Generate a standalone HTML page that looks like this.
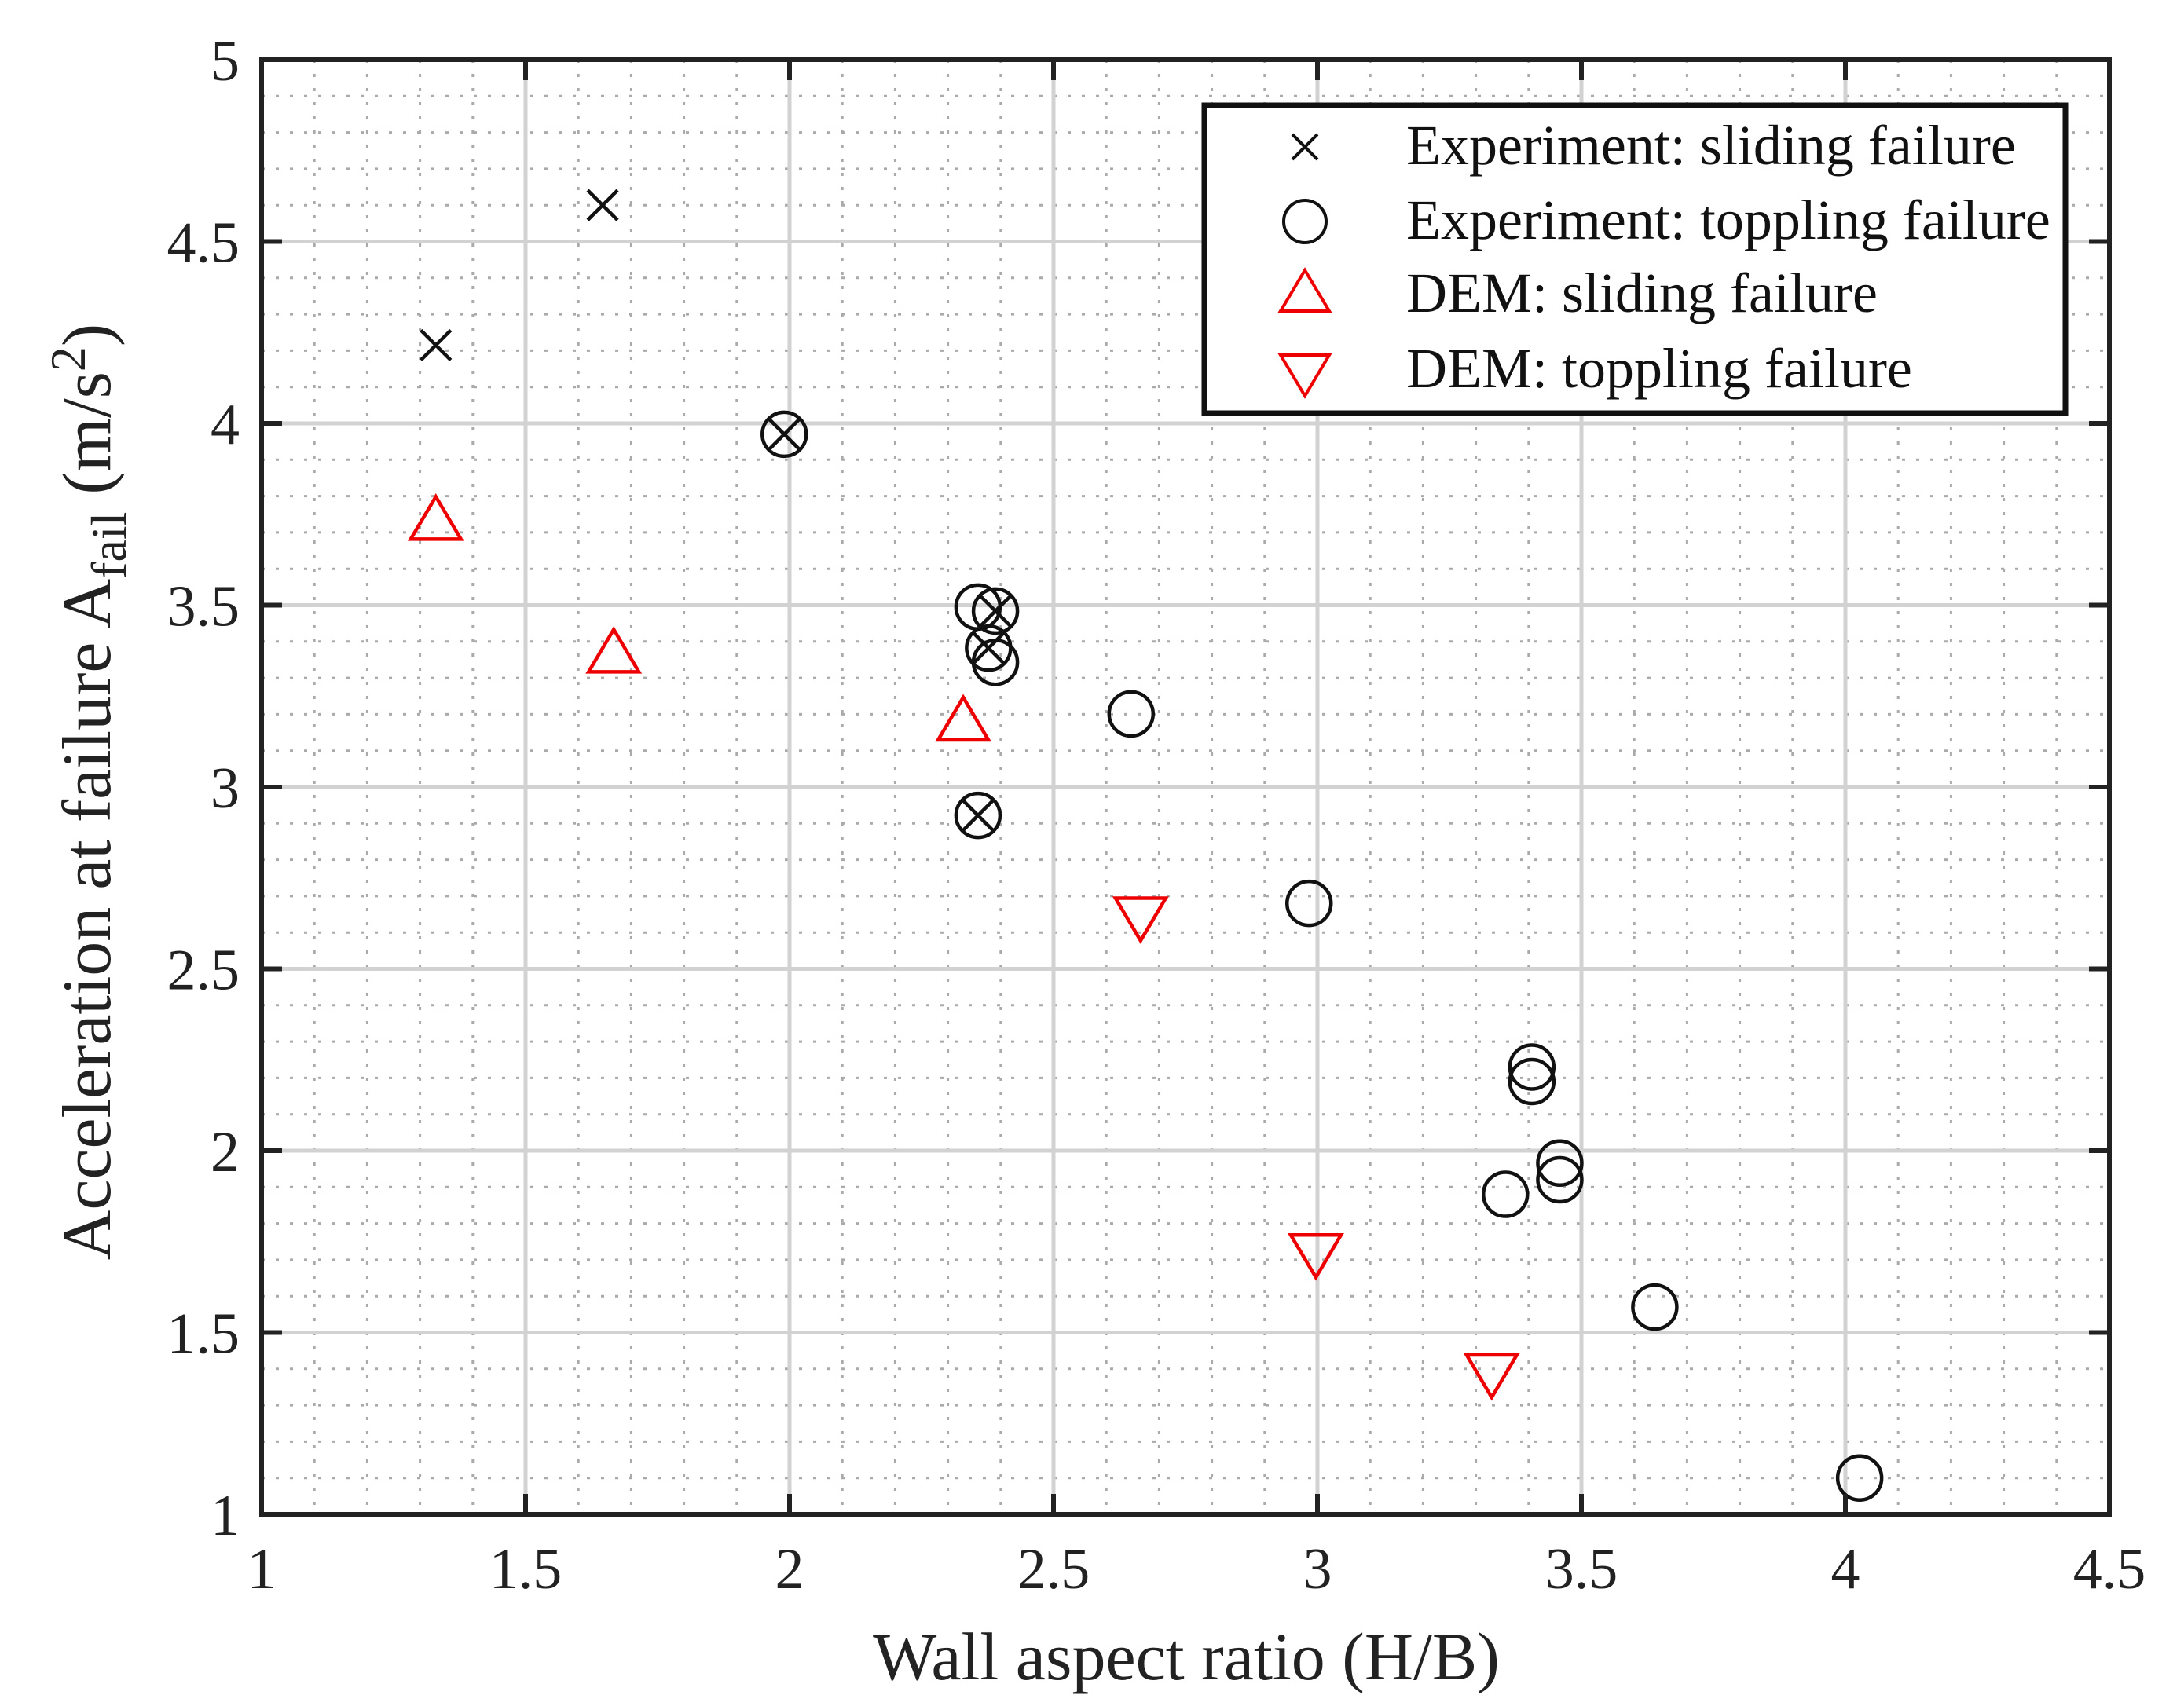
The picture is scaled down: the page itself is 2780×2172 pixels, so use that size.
<!DOCTYPE html>
<html><head><meta charset="utf-8">
<style>
html,body{margin:0;padding:0;background:#fff;}
svg{display:block;font-family:"Liberation Serif",serif;}
</style></head>
<body>
<svg id="chart" width="2780" height="2172" viewBox="0 0 2780 2172" xmlns="http://www.w3.org/2000/svg">
<rect x="0" y="0" width="2780" height="2172" fill="#fff"/>
<g id="grid"></g>
<g id="marks"></g>
<g id="axes"></g>
<text x="1510" y="2138" font-size="86" text-anchor="middle" fill="#222">Wall aspect ratio (H/B)</text>
<text transform="translate(140,1008) rotate(-90)" font-size="88" text-anchor="middle" fill="#222">Acceleration at failure A<tspan font-size="64" dy="20">fail</tspan><tspan dy="-20"> (m/s</tspan><tspan font-size="64" dy="-32">2</tspan><tspan dy="32">)</tspan></text>
<g id="legend">
<rect x="1533" y="134" width="1096" height="392" fill="#fff" stroke="#111" stroke-width="7"/>
<g>
<path d="M1645 171 L1677 203 M1677 171 L1645 203" stroke="#111" stroke-width="4" fill="none"/>
<text x="1790" y="209" font-size="72" fill="#111">Experiment: sliding failure</text></g>
<g>
<circle cx="1661" cy="282" r="27" stroke="#111" stroke-width="4" fill="none"/>
<text x="1790" y="304" font-size="72" fill="#111">Experiment: toppling failure</text></g>
<g>
<path d="M1661 344 L1692 396 L1630 396 Z" stroke="#e00" stroke-width="4" fill="none"/>
<text x="1790" y="397" font-size="72" fill="#111">DEM: sliding failure</text></g>
<g>
<path d="M1630 452 L1692 452 L1661 504 Z" stroke="#e00" stroke-width="4" fill="none"/>
<text x="1790" y="493" font-size="72" fill="#111">DEM: toppling failure</text></g>
</g>
</svg>
<script>
const xTicks = [1, 1.5, 2, 2.5, 3, 3.5, 4, 4.5];
const yTicks = [1, 1.5, 2, 2.5, 3, 3.5, 4, 4.5, 5];
const expSlideX = [1.33, 1.646, 1.99, 2.39, 2.377, 2.357];
const expSlideY = [4.215, 4.60, 3.97, 3.484, 3.382, 2.922];
const expToppleX = [1.99, 2.357, 2.39, 2.377, 2.39, 2.357, 2.647, 2.984, 3.406, 3.406, 3.459, 3.459, 3.356, 3.639, 4.027];
const expToppleY = [3.97, 3.495, 3.484, 3.382, 3.343, 2.922, 3.201, 2.68, 2.23, 2.19, 1.966, 1.92, 1.88, 1.57, 1.10];
const demSlideX = [1.33, 1.667, 2.329];
const demSlideY = [3.74, 3.375, 3.188];
const demToppleX = [2.665, 2.997, 3.33];
const demToppleY = [2.636, 1.71, 1.38];

const L = 333, R = 2685, T = 76, B = 1928;
const X0 = 1, X1 = 4.5, Y0 = 1, Y1 = 5;
function sx(v){ return L + (v - X0) / (X1 - X0) * (R - L); }
function sy(v){ return B - (v - Y0) / (Y1 - Y0) * (B - T); }
const NS = 'http://www.w3.org/2000/svg';
function mk(tag, attrs, parent){
  const e = document.createElementNS(NS, tag);
  for (const k in attrs) e.setAttribute(k, attrs[k]);
  parent.appendChild(e);
  return e;
}
const grid = document.getElementById('grid');
const marks = document.getElementById('marks');
const axes = document.getElementById('axes');

for (let i = 1; i < 35; i++) {
  if (i % 5 === 0) continue;
  const v = X0 + i * 0.1;
  const l = mk('line', {x1: sx(v), x2: sx(v), y1: T, y2: B, stroke: '#aaa', 'stroke-width': 3, 'stroke-dasharray': '4 14'}, grid);
  
  
}
for (let i = 1; i < 40; i++) {
  if (i % 5 === 0) continue;
  const v = Y0 + i * 0.1;
  const l = mk('line', {x1: L, x2: R, y1: sy(v), y2: sy(v), stroke: '#aaa', 'stroke-width': 3, 'stroke-dasharray': '4 14'}, grid);
  
  
}
xTicks.forEach(v => {
  const g = mk('line', {x1: sx(v), x2: sx(v), y1: T, y2: B, stroke: '#d2d2d2', 'stroke-width': 5}, grid);
  
  
  mk('line', {x1: sx(v), x2: sx(v), y1: B, y2: B - 26, stroke: '#222', 'stroke-width': 6}, axes);
  mk('line', {x1: sx(v), x2: sx(v), y1: T, y2: T + 26, stroke: '#222', 'stroke-width': 6}, axes);
  const t = mk('text', {x: sx(v), y: 2022, 'font-size': 74, 'text-anchor': 'middle', fill: '#222'}, axes);
  t.textContent = String(v);
  
  
});
yTicks.forEach(v => {
  const g = mk('line', {x1: L, x2: R, y1: sy(v), y2: sy(v), stroke: '#d2d2d2', 'stroke-width': 5}, grid);
  
  
  mk('line', {x1: L, x2: L + 26, y1: sy(v), y2: sy(v), stroke: '#222', 'stroke-width': 6}, axes);
  mk('line', {x1: R, x2: R - 26, y1: sy(v), y2: sy(v), stroke: '#222', 'stroke-width': 6}, axes);
  const t = mk('text', {x: 305, y: sy(v) + 26, 'font-size': 74, 'text-anchor': 'end', fill: '#222'}, axes);
  t.textContent = String(v);
  
  
});
const frame = mk('rect', {x: L, y: T, width: R - L, height: B - T, fill: 'none', stroke: '#222', 'stroke-width': 6}, axes);



expToppleX.forEach((x, i) => {
  const c = mk('circle', {cx: sx(x), cy: sy(expToppleY[i]), r: 28, fill: 'none', stroke: '#111', 'stroke-width': 4.5}, marks);
  
  
});
expSlideX.forEach((x, i) => {
  const cx = sx(x), cy = sy(expSlideY[i]), d = 19;
  const p = mk('path', {d: `M${cx-d} ${cy-d} L${cx+d} ${cy+d} M${cx+d} ${cy-d} L${cx-d} ${cy+d}`, stroke: '#111', 'stroke-width': 4.5, fill: 'none'}, marks);
  
  
});
demSlideX.forEach((x, i) => {
  const cx = sx(x), cy = sy(demSlideY[i]);
  const p = mk('path', {d: `M${cx} ${cy-27} L${cx+32} ${cy+27} L${cx-32} ${cy+27} Z`, stroke: '#e00', 'stroke-width': 4.5, fill: 'none'}, marks);
  
  
});
demToppleX.forEach((x, i) => {
  const cx = sx(x), cy = sy(demToppleY[i]);
  const p = mk('path', {d: `M${cx-32} ${cy-27} L${cx+32} ${cy-27} L${cx} ${cy+27} Z`, stroke: '#e00', 'stroke-width': 4.5, fill: 'none'}, marks);
  
  
});
</script>
</body></html>
